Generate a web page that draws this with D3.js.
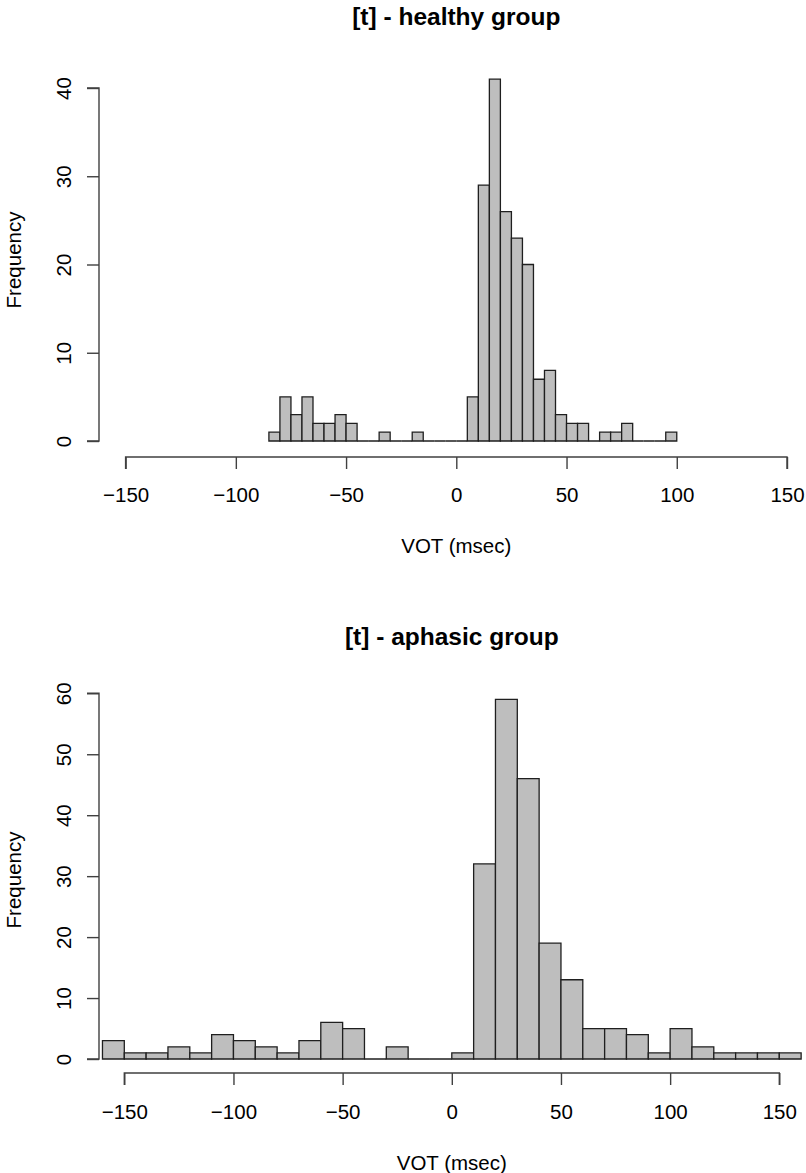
<!DOCTYPE html>
<html>
<head>
<meta charset="utf-8">
<script src="https://cdn.jsdelivr.net/npm/d3@7"></script>
<style>
  html, body { margin: 0; padding: 0; background: #fff; }
  svg { display: block; font-family: "Liberation Sans", Arial, Helvetica, sans-serif; }
</style>
</head>
<body>
<svg id="chart" width="806" height="1173"></svg>
<script>
// VOT histograms for [t]: healthy group (5 ms bins) and aphasic group (10 ms bins)
const healthyBinStarts = [-85, -80, -75, -70, -65, -60, -55, -50, -45, -40, -35, -30, -25, -20, -15, -10, -5,
  0, 5, 10, 15, 20, 25, 30, 35, 40, 45, 50, 55, 60, 65, 70, 75, 80, 85, 90, 95];
const healthyCounts = [1, 5, 3, 5, 2, 2, 3, 2, 0, 0, 1, 0, 0, 1, 0, 0, 0,
  0, 5, 29, 41, 26, 23, 20, 7, 8, 3, 2, 2, 0, 1, 1, 2, 0, 0, 0, 1];
const healthyBinWidth = 5;

const aphasicBinStarts = [-160, -150, -140, -130, -120, -110, -100, -90, -80, -70, -60, -50, -40, -30, -20, -10,
  0, 10, 20, 30, 40, 50, 60, 70, 80, 90, 100, 110, 120, 130, 140, 150];
const aphasicCounts = [3, 1, 1, 2, 1, 4, 3, 2, 1, 3, 6, 5, 0, 2, 0, 0,
  1, 32, 59, 46, 19, 13, 5, 5, 4, 1, 5, 2, 1, 1, 1, 1];
const aphasicBinWidth = 10;

const xTicks = [-150, -100, -50, 0, 50, 100, 150];
const healthyYTicks = [0, 10, 20, 30, 40];
const aphasicYTicks = [0, 10, 20, 30, 40, 50, 60];

const titles = ["[t] - healthy group", "[t] - aphasic group"];
const xLabel = "VOT (msec)";
const yLabel = "Frequency";

const svg = d3.select("#chart");
const axisColor = "#404040";
const barStroke = "#1f1f1f";
const barFill = "#bebebe";

function drawPanel(p) {
  const x = d3.scaleLinear().domain([-150, 150]).range(p.xRange);
  const y = d3.scaleLinear().domain(p.yDomain).range(p.yRange);
  const g = svg.append("g");

  // title
  g.append("text")
    .attr("x", x(0)).attr("y", p.titleY)
    .attr("text-anchor", "middle")
    .attr("font-size", 24.5).attr("font-weight", "bold")
    .attr("fill", "#000")
    .text(p.title);

  // bars (zero-count bins collapse to a line on the baseline)
  g.selectAll("path.bar")
    .data(p.starts.map((s, i) => ({ x0: s, x1: s + p.width, n: p.counts[i] })))
    .join("path")
    .attr("class", "bar")
    .attr("d", d => {
      const a = x(d.x0), b = x(d.x1), y0 = y(0), y1 = y(d.n);
      return `M${a},${y0}L${a},${y1}L${b},${y1}L${b},${y0}Z`;
    })
    .attr("fill", barFill)
    .attr("stroke", barStroke)
    .attr("stroke-width", 1.3);

  // x axis
  const xAxis = d3.axisBottom(x).tickValues(xTicks).tickSize(12).tickPadding(20).tickFormat(d3.format("d"));
  const xg = g.append("g").attr("transform", `translate(0,${p.xAxisY})`).call(xAxis);
  xg.select(".domain").attr("stroke", axisColor).attr("stroke-width", 1.4)
    .attr("d", `M${x(-150)},12V0H${x(150)}V12`);
  xg.selectAll(".tick line").attr("stroke", axisColor).attr("stroke-width", 1.4);
  xg.selectAll(".tick text").attr("font-size", 20.5).attr("fill", "#000")
    .attr("font-family", "Liberation Sans, Arial, sans-serif")
    .attr("dy", null).attr("y", p.xTickLabelY - p.xAxisY);

  // y axis
  const yAxis = d3.axisLeft(y).tickValues(p.yTicks).tickSize(12).tickFormat(d3.format("d"));
  const yg = g.append("g").attr("transform", `translate(${p.yAxisX},0)`).call(yAxis);
  yg.select(".domain").attr("stroke", axisColor).attr("stroke-width", 1.4)
    .attr("d", `M-12,${y(p.yTicks[p.yTicks.length - 1])}H0V${y(0)}H-12`);
  yg.selectAll(".tick line").attr("stroke", axisColor).attr("stroke-width", 1.4);
  yg.selectAll(".tick text").remove();
  yg.selectAll(".tick").append("text")
    .attr("transform", `translate(${-28},0) rotate(-90)`)
    .attr("text-anchor", "middle")
    .attr("font-size", 20.5).attr("fill", "#000")
    .attr("font-family", "Liberation Sans, Arial, sans-serif")
    .text(d => d);

  // axis titles
  g.append("text")
    .attr("x", x(0)).attr("y", p.xLabelY)
    .attr("text-anchor", "middle")
    .attr("font-size", 20.5).attr("fill", "#000")
    .text(xLabel);
  g.append("text")
    .attr("transform", `translate(21,${p.yLabelCenter}) rotate(-90)`)
    .attr("text-anchor", "middle")
    .attr("font-size", 20.5).attr("fill", "#000")
    .text(yLabel);
}

drawPanel({
  title: titles[0], titleY: 25,
  starts: healthyBinStarts, counts: healthyCounts, width: healthyBinWidth,
  xRange: [125.6, 787], yDomain: [0, 40], yRange: [441, 88], yTicks: healthyYTicks,
  xAxisY: 457, xTickLabelY: 502, xLabelY: 553, yAxisX: 99, yLabelCenter: 260
});

drawPanel({
  title: titles[1], titleY: 645,
  starts: aphasicBinStarts, counts: aphasicCounts, width: aphasicBinWidth,
  xRange: [124.3, 779.3], yDomain: [0, 60], yRange: [1059, 693.3], yTicks: aphasicYTicks,
  xAxisY: 1073, xTickLabelY: 1119, xLabelY: 1170, yAxisX: 99, yLabelCenter: 880
});
</script>
</body>
</html>
